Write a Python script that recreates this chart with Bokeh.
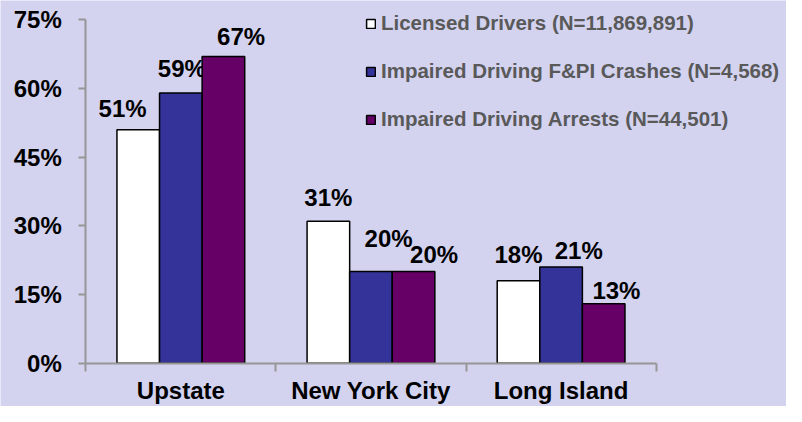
import numpy as np
from bokeh.plotting import figure
from bokeh.models import (ColumnDataSource, Range1d, FixedTicker, PrintfTickFormatter,
                          Legend, LegendItem)
from bokeh.core.properties import value
from bokeh.embed import file_html
from bokeh.resources import INLINE

# ---- data ----
regions = ["Upstate", "New York City", "Long Island"]
series_names = ["Licensed Drivers (N=11,869,891)",
                "Impaired Driving F&PI Crashes (N=4,568)",
                "Impaired Driving Arrests (N=44,501)"]
licensed = [51, 31, 18]
crashes = [59, 20, 21]
arrests = [67, 20, 13]
y_ticks = [0, 15, 30, 45, 60, 75]

# ---- styles / layout ----
colors = ["#FFFFFF", "#333399", "#660066"]
bg = "#D3D3F0"
font = "Liberation Sans"
bar_w = 0.224
W, H = 786, 406
SX, SY = W / 802.0, H / 422.0    # fit the 802x422 design into the canvas
# pixel layout of the plotting area inside the canvas
left_px, right_px = 87 * SX, 669 * SX     # x = 0 and x = 3
top_px, bottom_px = 20 * SY, 377 * SY     # y = 75 and y = 0
px_per_x = (right_px - left_px) / 3.0
px_per_y = (bottom_px - top_px) / 75.0
x_range = Range1d(-left_px / px_per_x, 3 + (W - right_px) / px_per_x)
y_range = Range1d(-(H - bottom_px) / px_per_y, 75 + top_px / px_per_y)

# label nudges (pixels) relative to each bar's top centre, per series per region
label_dx = [[-16, 0, 0], [1, 18, 18], [18, 21, 13]]
label_dy = [[-22, -25, -27], [-25, -34, -17], [-21, -18, -14]]

p = figure(width=W, height=H, output_backend="svg", toolbar_location=None,
           x_range=x_range, y_range=y_range,
           min_border_left=0, min_border_right=0, min_border_top=0, min_border_bottom=0)
p.background_fill_color = bg
p.border_fill_color = bg
p.outline_line_color = None
p.grid.grid_line_color = None

renderers = []
all_vals = [licensed, crashes, arrests]
centers = np.arange(len(regions)) + 0.5
for k, vals in enumerate(all_vals):
    xs = centers + (k - 1) * bar_w
    src = ColumnDataSource(dict(x=xs, top=vals,
                                label=[f"{v}%" for v in vals],
                                dx=[d * SX for d in label_dx[k]],
                                dy=[d * SY for d in label_dy[k]]))
    r = p.vbar(x="x", top="top", width=bar_w, source=src, fill_color=colors[k],
               line_color="black", line_width=1.5)
    renderers.append(r)
    p.text(x="x", y="top", text="label", x_offset="dx", y_offset="dy", source=src,
           text_font=value(font), text_font_style="bold", text_font_size="24px",
           text_color="black", text_align="center", text_baseline="middle")

axis_col = "#969696"
# y axis (drawn at x = 0 inside the canvas)
p.yaxis.fixed_location = 0
p.yaxis.bounds = (0, 75)
p.yaxis.ticker = FixedTicker(ticks=y_ticks)
p.yaxis.formatter = PrintfTickFormatter(format="%d%%")
p.yaxis.axis_line_color = axis_col
p.yaxis.axis_line_width = 2
p.yaxis.major_tick_line_color = axis_col
p.yaxis.major_tick_line_width = 2
p.yaxis.major_tick_out = 7
p.yaxis.major_tick_in = 0
p.yaxis.minor_tick_line_color = None
p.yaxis.major_label_standoff = 17
p.yaxis.major_label_text_font = font
p.yaxis.major_label_text_font_style = "bold"
p.yaxis.major_label_text_font_size = "24px"
p.yaxis.major_label_text_color = "black"

# x axis (drawn at y = 0)
p.xaxis.fixed_location = 0
p.xaxis.bounds = (0, len(regions))
p.xaxis.ticker = FixedTicker(ticks=list(centers), minor_ticks=list(range(len(regions) + 1)))
p.xaxis.major_label_overrides = {float(c): name for c, name in zip(centers, regions)}
p.xaxis.axis_line_color = axis_col
p.xaxis.axis_line_width = 2
p.xaxis.major_tick_line_color = None
p.xaxis.major_tick_out = 0
p.xaxis.major_tick_in = 0
p.xaxis.minor_tick_line_color = axis_col
p.xaxis.minor_tick_line_width = 2
p.xaxis.minor_tick_out = 8
p.xaxis.minor_tick_in = 0
p.xaxis.major_label_standoff = 6
p.xaxis.major_label_text_font = font
p.xaxis.major_label_text_font_style = "bold"
p.xaxis.major_label_text_font_size = "24px"
p.xaxis.major_label_text_color = "black"

legend = Legend(items=[LegendItem(label=n, renderers=[r]) for n, r in zip(series_names, renderers)],
                location=(365, 275), padding=0, margin=0, spacing=24,
                glyph_width=11, glyph_height=11, label_standoff=5,
                label_text_font=font, label_text_font_style="bold",
                label_text_font_size="20.5px", label_text_color="#595959",
                border_line_color=None, background_fill_alpha=0)
p.add_layout(legend, "center")

open("out.html", "w").write(file_html(p, INLINE))
